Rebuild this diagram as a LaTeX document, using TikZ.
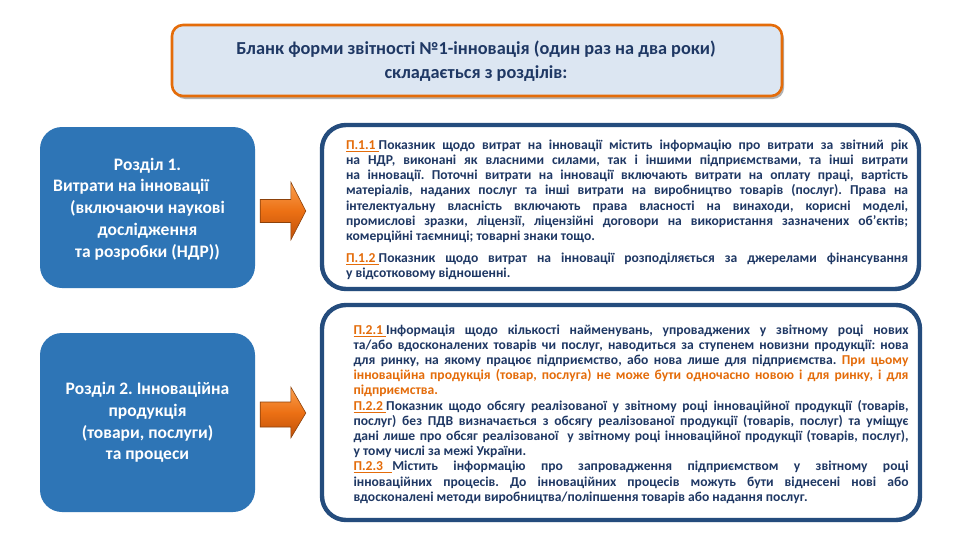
\documentclass[tikz,border=0pt]{standalone}
\usepackage{fontspec}
\setmainfont{Carlito}
\usetikzlibrary{shadows,calc}
\frenchspacing
\definecolor{navytext}{RGB}{31,56,100}
\definecolor{labcol}{RGB}{228,108,10}
\definecolor{secblue}{RGB}{46,117,182}
\definecolor{titlefill}{RGB}{220,230,242}
\definecolor{titleborder}{RGB}{228,108,10}
\definecolor{boxborder}{RGB}{36,76,125}
\definecolor{arrowlight}{RGB}{250,160,80}
\definecolor{arrowmid}{RGB}{236,112,20}
\definecolor{arrowdark}{RGB}{190,80,10}
\definecolor{arrowedge}{RGB}{140,65,10}
\newlength\tw
\newcommand\lab[1]{{\color{labcol}\setbox0\hbox{#1}\rlap{\rule[-2.2pt]{\wd0}{0.7pt}}\box0}}
\newcommand\jline[1]{\makebox[\tw][s]{#1}}
\newcommand\lline[1]{\makebox[\tw][l]{#1}}
\newcommand\orng[1]{{\color{labcol}#1}}
\newcommand\secline[2]{\hbox to 210pt{\hfil #2\hskip #1\hfil}}
\tikzset{
  titlebox/.style={draw=titleborder, line width=2.6pt, fill=titlefill, rounded corners=11pt,
    drop shadow={shadow xshift=2pt, shadow yshift=-3pt, fill=black!55, opacity=0.55}},
  titletxt/.style={text=navytext, font=\fontsize{18.3pt}{24pt}\selectfont\bfseries, align=center, inner sep=0pt},
  secbox/.style={fill=secblue, rounded corners=22pt, minimum width=215pt, draw=none},
  sectxt/.style={text=white, font=\fontsize{17.5pt}{21.8pt}\selectfont\bfseries, align=center, inner sep=0pt},
  infobox/.style={draw=boxborder, line width=4.4pt, fill=white, rounded corners=24pt,
    drop shadow={shadow xshift=1.5pt, shadow yshift=-2pt, fill=black!30, opacity=0.4}},
  infotxt/.style={text=navytext, font=\fontsize{13.6pt}{15.2pt}\selectfont\bfseries, align=left, inner sep=0pt},
  blockarrow/.style={draw=arrowedge, line width=0.6pt, top color=arrowlight, bottom color=arrowdark, middle color=arrowmid},
}
\begin{document}
\begin{tikzpicture}[x=1pt,y=-1pt]
\useasboundingbox (0,0) rectangle (956,535);
\fill[white] (0,0) rectangle (956,535);
% title
\node[titlebox, minimum width=610pt, minimum height=71pt] (title) at (477,60.5) {};
\node[titletxt] (titletext) at (476,61) {Бланк форми звітності №1-інновація (один раз на два роки)\\складається з розділів:};
% left section boxes
\node[secbox, minimum height=161pt] (sec1) at (147.5,207.5) {};
\node[sectxt] (sec1text) at (147.5,209) {\secline{0pt}{Розділ 1.}\\\secline{33pt}{Витрати на інновації}\\\secline{0pt}{(включаючи наукові}\\\secline{0pt}{дослідження}\\\secline{0pt}{та розробки (НДР))}};
\node[secbox, minimum height=179pt] (sec2) at (147.5,422.5) {};
\node[sectxt] (sec2text) at (147.5,422.5) {Розділ 2. Інноваційна\\продукція\\(товари, послуги)\\та процеси};
% right info boxes
\node[infobox, minimum width=597pt, minimum height=164pt] (info1) at (620.5,207) {};
\node[infobox, minimum width=598pt, minimum height=215pt] (info2) at (621,412.5) {};
% arrows
\coordinate (a1s) at ($(sec1.east)+(5,3.5)$);
\coordinate (a1t) at ($(info1.west)+(-14,4)$);
\draw[blockarrow] (a1s) ++(0,-11.5) -| ($(a1t)+(-15,-29)$) -- (a1t) -- ($(a1t)+(-15,29)$) |- ($(a1s)+(0,11.5)$) -- cycle;
\coordinate (a2s) at ($(sec2.east)+(5,-8)$);
\coordinate (a2t) at ($(info2.west)+(-14,0.5)$);
\draw[blockarrow] (a2s) ++(0,-12.5) -| ($(a2t)+(-15,-26)$) -- (a2t) -- ($(a2t)+(-15,25)$) |- ($(a2s)+(0,12.5)$) -- cycle;
% info texts
\setlength\tw{562pt}
\node[infotxt] (info1text) at (627,210) {%
\jline{\lab{П.1.1\ }Показник щодо витрат на інновації містить інформацію про витрати за звітний рік}\\
\jline{на НДР, виконані як власними силами, так і іншими підприємствами, та інші витрати}\\
\jline{на інновації. Поточні витрати на інновації включають витрати на оплату праці, вартість}\\
\jline{матеріалів, наданих послуг та інші витрати на виробництво товарів (послуг). Права на}\\
\jline{інтелектуальну власність включають права власності на винаходи, корисні моделі,}\\
\jline{промислові зразки, ліцензії, ліцензійні договори на використання зазначених об’єктів;}\\
\lline{комерційні таємниці; товарні знаки тощо.}\\[7pt]
\jline{\lab{П.1.2\ }Показник щодо витрат на інновації розподіляється за джерелами фінансування}\\
\lline{у відсотковому відношенні.}};
\setlength\tw{555pt}
\node[infotxt] (info2text) at (631,414) {%
\jline{\lab{П.2.1\ }Інформація щодо кількості найменувань, упроваджених у звітному році нових}\\
\jline{та/або вдосконалених товарів чи послуг, наводиться за ступенем новизни продукції: нова}\\
\jline{для ринку, на якому працює підприємство, або нова лише для підприємства. \orng{При} \orng{цьому}}\\
\jline{\orng{інноваційна} \orng{продукція} \orng{(товар,} \orng{послуга)} \orng{не} \orng{може} \orng{бути} \orng{одночасно} \orng{новою} \orng{і} \orng{для} \orng{ринку,} \orng{і} \orng{для}}\\
\lline{\orng{підприємства.}}\\
\jline{\lab{П.2.2\ }Показник щодо обсягу реалізованої у звітному році інноваційної продукції (товарів,}\\
\jline{послуг) без ПДВ визначається з обсягу реалізованої продукції (товарів, послуг) та уміщує}\\
\jline{дані лише про обсяг реалізованої\ \ у звітному році інноваційної продукції (товарів, послуг),}\\
\lline{у тому числі за межі України.}\\
\jline{\lab{П.2.3\ \ \ }Містить інформацію про запровадження підприємством у звітному році}\\
\jline{інноваційних процесів. До інноваційних процесів можуть бути віднесені нові або}\\
\lline{вдосконалені методи виробництва/поліпшення товарів або надання послуг.}};
\end{tikzpicture}
\end{document}
